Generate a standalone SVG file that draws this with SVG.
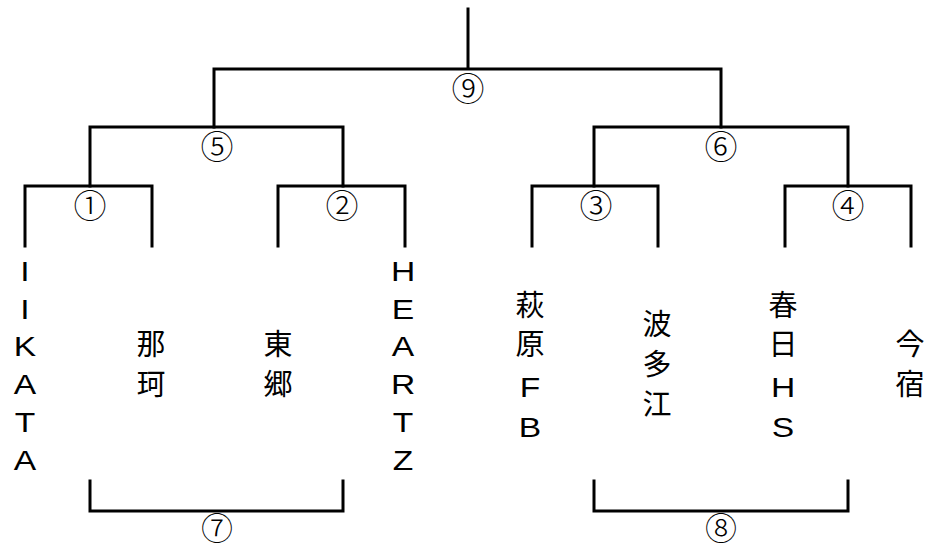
<svg xmlns="http://www.w3.org/2000/svg" width="931" height="550" viewBox="0 0 931 550">
<style>
.ln{fill:none;stroke:#000;stroke-width:3;stroke-linejoin:miter;stroke-linecap:square}
.num{font-family:"Noto Sans CJK JP","Noto Sans",sans-serif;font-size:33px;font-weight:300;text-anchor:middle;fill:#000}
.bot{font-size:32px}
.lat{font-family:"Liberation Sans","Noto Sans CJK JP",sans-serif;font-size:28px;text-anchor:middle;fill:#000}
.cjk{font-family:"Noto Sans CJK JP",sans-serif;font-size:29px;text-anchor:middle;fill:#000}
</style>
<rect width="931" height="550" fill="#fff"/>
<g id="connectors">
<path class="ln" d="M468 9V69M214 127V69H721V127"/>
<path class="ln" d="M90 186V127H343V186"/>
<path class="ln" d="M594 186V127H848V186"/>
<path class="ln" d="M25 246V186H152V246"/>
<path class="ln" d="M278 246V186H405V246"/>
<path class="ln" d="M532 246V186H658V246"/>
<path class="ln" d="M785 246V186H911V246"/>
<path class="ln" d="M90 481V511H343V481"/>
<path class="ln" d="M594 481V511H848V481"/>
</g>
<g id="match-labels">
<text class="num" x="468" y="101">⑨</text>
<text class="num" x="217" y="159">⑤</text>
<text class="num" x="721" y="159">⑥</text>
<text class="num" x="90" y="218">①</text>
<text class="num" x="342" y="218">②</text>
<text class="num" x="596" y="218">③</text>
<text class="num" x="848" y="218">④</text>
<text class="num bot" x="217" y="540">⑦</text>
<text class="num bot" x="721" y="540">⑧</text>
</g>
<g id="team-iikata"><text class="lat" transform="translate(25,0) scale(1.2,1)"><tspan x="0" y="281">I</tspan><tspan x="0" y="319">I</tspan><tspan x="0" y="356">K</tspan><tspan x="0" y="394">A</tspan><tspan x="0" y="432">T</tspan><tspan x="0" y="470">A</tspan></text></g>
<g id="team-naka"><text class="cjk"><tspan x="151" y="355">那</tspan><tspan x="151" y="395">珂</tspan></text></g>
<g id="team-togo"><text class="cjk"><tspan x="278" y="355">東</tspan><tspan x="278" y="395">郷</tspan></text></g>
<g id="team-heartz"><text class="lat" transform="translate(403,0) scale(1.2,1)"><tspan x="0" y="281">H</tspan><tspan x="0" y="319">E</tspan><tspan x="0" y="356">A</tspan><tspan x="0" y="394">R</tspan><tspan x="0" y="432">T</tspan><tspan x="0" y="470">Z</tspan></text></g>
<g id="team-hagiwara"><text class="cjk"><tspan x="530" y="316">萩</tspan><tspan x="530" y="355">原</tspan></text><text class="lat" transform="translate(530,0) scale(1.2,1)"><tspan x="0" y="397">F</tspan><tspan x="0" y="437">B</tspan></text></g>
<g id="team-hatae"><text class="cjk"><tspan x="657" y="335">波</tspan><tspan x="657" y="375">多</tspan><tspan x="657" y="415">江</tspan></text></g>
<g id="team-kasuga"><text class="cjk"><tspan x="783" y="316">春</tspan><tspan x="783" y="355">日</tspan></text><text class="lat" transform="translate(783,0) scale(1.2,1)"><tspan x="0" y="397">H</tspan><tspan x="0" y="437">S</tspan></text></g>
<g id="team-imajuku"><text class="cjk"><tspan x="910" y="355">今</tspan><tspan x="910" y="395">宿</tspan></text></g>
</svg>
